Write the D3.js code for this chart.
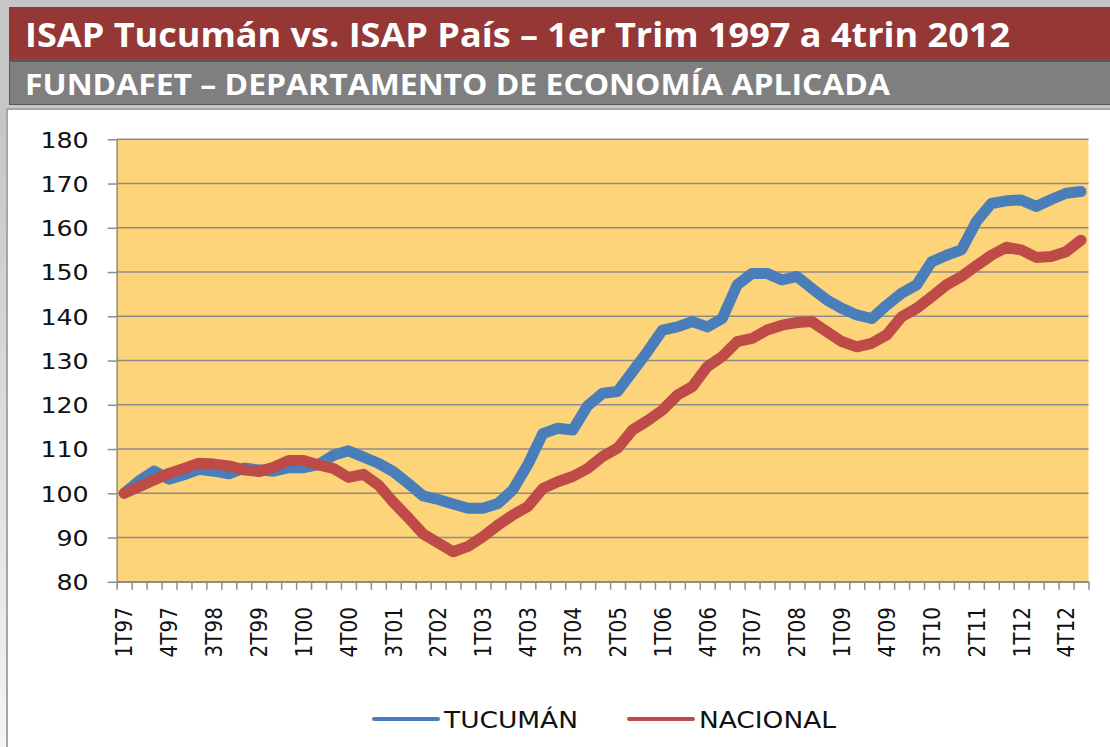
<!DOCTYPE html>
<html>
<head>
<meta charset="utf-8">
<script src="https://cdn.jsdelivr.net/npm/d3@7"></script>
<style>
  body { margin: 0; background: #ffffff; }
</style>
</head>
<body>
<div id="chart"></div>
<script>
// data
var quarters = [
    "1T97", "2T97", "3T97", "4T97", "1T98", "2T98", "3T98", "4T98",
    "1T99", "2T99", "3T99", "4T99", "1T00", "2T00", "3T00", "4T00",
    "1T01", "2T01", "3T01", "4T01", "1T02", "2T02", "3T02", "4T02",
    "1T03", "2T03", "3T03", "4T03", "1T04", "2T04", "3T04", "4T04",
    "1T05", "2T05", "3T05", "4T05", "1T06", "2T06", "3T06", "4T06",
    "1T07", "2T07", "3T07", "4T07", "1T08", "2T08", "3T08", "4T08",
    "1T09", "2T09", "3T09", "4T09", "1T10", "2T10", "3T10", "4T10",
    "1T11", "2T11", "3T11", "4T11", "1T12", "2T12", "3T12", "4T12",
    "1T13"
];

var tucuman = [
    100, 102.8, 105, 103.2, 104.2, 105.4, 105, 104.4,
    105.7, 105.3, 105, 105.8, 105.8, 106.5, 108.6, 109.6,
    108.2, 106.8, 104.9, 102.2, 99.4, 98.6, 97.6, 96.6,
    96.6, 97.7, 100.8, 106.5, 113.5, 114.7, 114.3, 119.8,
    122.6, 123, 127.5, 132, 136.9, 137.6, 138.8, 137.6,
    139.5, 147.1, 149.7, 149.7, 148.2, 149, 146.3, 143.7,
    141.8, 140.3, 139.5, 142.5, 145.2, 147.1, 152.3, 153.8,
    155, 161.4, 165.5, 166.1, 166.3, 164.8, 166.4, 167.8,
    168.2
];

var nacional = [
    100, 101.5, 103, 104.5, 105.6, 106.8, 106.6, 106.2,
    105.3, 104.9, 105.9, 107.4, 107.4, 106.4, 105.6, 103.6,
    104.3, 101.9, 98, 94.5, 90.8, 88.8, 86.8, 88,
    90.2, 92.8, 95.1, 97, 101.1, 102.6, 103.8, 105.6,
    108.3, 110.2, 114.3, 116.4, 118.8, 122.2, 124.1, 128.6,
    130.9, 134.3, 135, 136.9, 138, 138.6, 138.8, 136.5,
    134.3, 133.1, 133.9, 135.8, 139.9, 141.8, 144.4, 147.1,
    149, 151.4, 153.8, 155.6, 155, 153.3, 153.5, 154.6,
    157.2
];

var yTicks = [80, 90, 100, 110, 120, 130, 140, 150, 160, 170, 180];
var labelEvery = 3;

var seriesNames = ["TUCUMÁN", "NACIONAL"];
var seriesColors = ["#4a7ebb", "#be4b48"];

var titleText = "ISAP Tucumán vs. ISAP País – 1er Trim 1997 a 4trin 2012";
var subtitleText = "FUNDAFET – DEPARTAMENTO DE ECONOMÍA APLICADA";

// layout
var width = 1110, height = 747;
var plot = { left: 116.7, right: 1088.5, top: 139.3, bottom: 581.8 };
var stretch = 1.15;

var svg = d3.select("#chart")
    .append("svg")
    .attr("width", width)
    .attr("height", height);

var defs = svg.append("defs");
var grad = defs.append("linearGradient")
    .attr("id", "sideGrad")
    .attr("x1", 0).attr("y1", 0).attr("x2", 0).attr("y2", 1);
grad.append("stop").attr("offset", "0%").attr("stop-color", "#bdbdbd");
grad.append("stop").attr("offset", "100%").attr("stop-color", "#f4f4f4");

// page frame
svg.append("rect").attr("width", width).attr("height", height).attr("fill", "#ffffff");
svg.append("rect").attr("x", 0).attr("y", 0).attr("width", 8).attr("height", height)
    .attr("fill", "url(#sideGrad)");
svg.append("rect").attr("x", 0).attr("y", 0).attr("width", width).attr("height", 108)
    .attr("fill", "#c6c6c6");

// header bands
svg.append("rect").attr("x", 9).attr("y", 7).attr("width", width - 9).attr("height", 52)
    .attr("fill", "#953735");
svg.append("rect").attr("x", 9).attr("y", 59).attr("width", width - 9).attr("height", 2)
    .attr("fill", "#5a5a5a");
svg.append("rect").attr("x", 9.5).attr("y", 61.5).attr("width", width - 9).attr("height", 43)
    .attr("fill", "#7f7f7f")
    .attr("stroke", "#595959")
    .attr("stroke-width", 1);

svg.append("text")
    .attr("x", 25)
    .attr("y", 47)
    .attr("fill", "#ffffff")
    .attr("font-family", "Open Sans, sans-serif")
    .attr("font-weight", 700)
    .style("font-size", "34px")
    .attr("textLength", 985)
    .attr("lengthAdjust", "spacingAndGlyphs")
    .text(titleText);

svg.append("text")
    .attr("x", 25)
    .attr("y", 95)
    .attr("fill", "#ffffff")
    .attr("font-family", "Open Sans, sans-serif")
    .attr("font-weight", 700)
    .style("font-size", "29px")
    .attr("textLength", 865)
    .attr("lengthAdjust", "spacingAndGlyphs")
    .text(subtitleText);

// chart area
svg.append("rect").attr("x", 7).attr("y", 109).attr("width", width).attr("height", height)
    .attr("fill", "#ffffff")
    .attr("stroke", "#a6a6a6")
    .attr("stroke-width", 2);

// scales
var x = d3.scaleBand()
    .domain(quarters)
    .range([plot.left, plot.right])
    .padding(0);

var xEdge = d3.scaleLinear()
    .domain([0, quarters.length])
    .range([plot.left, plot.right]);

var y = d3.scaleLinear()
    .domain([80, 180])
    .range([plot.bottom, plot.top]);

// plot background
svg.append("rect")
    .attr("x", plot.left)
    .attr("y", plot.top)
    .attr("width", plot.right - plot.left)
    .attr("height", plot.bottom - plot.top)
    .attr("fill", "#fdd47a");

// grid
svg.append("g")
    .selectAll("line")
    .data(yTicks)
    .join("line")
    .attr("x1", plot.left)
    .attr("x2", plot.right)
    .attr("y1", function (d) { return y(d); })
    .attr("y2", function (d) { return y(d); })
    .attr("stroke", "#8c8c8c")
    .attr("stroke-width", 1.5);

// y axis
var yAxis = svg.append("g")
    .attr("transform", "translate(" + plot.left + ",0)")
    .call(d3.axisLeft(y).tickValues(yTicks).tickSize(9).tickPadding(19).tickSizeOuter(0));
yAxis.select(".domain").attr("stroke", "#8c8c8c").attr("stroke-width", 1.5);
yAxis.selectAll(".tick line").attr("stroke", "#8c8c8c").attr("stroke-width", 1.5);
yAxis.selectAll(".tick text")
    .attr("font-family", "DejaVu Sans, sans-serif")
    .style("font-size", "22px")
    .attr("fill", "#111111")
    .attr("dy", "0.36em")
    .attr("transform", "translate(" + (28 * (stretch - 1)) + ",0) scale(" + stretch + ",1)");

// x axis ticks between categories
var xTicks = svg.append("g")
    .attr("transform", "translate(0," + plot.bottom + ")")
    .call(d3.axisBottom(xEdge)
        .tickValues(d3.range(quarters.length + 1))
        .tickFormat("")
        .tickSize(8)
        .tickSizeOuter(0));
xTicks.select(".domain").attr("stroke", "#8c8c8c").attr("stroke-width", 1.5);
xTicks.selectAll(".tick line").attr("stroke", "#8c8c8c").attr("stroke-width", 1.5);

// x labels, rotated
svg.append("g")
    .selectAll("text")
    .data(quarters.filter(function (d, i) { return i % labelEvery === 0; }))
    .join("text")
    .attr("transform", function (d) {
        return "translate(" + (x(d) + x.bandwidth() / 2) + ",607) scale(" + stretch + ",1) rotate(-90)";
    })
    .attr("text-anchor", "end")
    .attr("dy", "0.36em")
    .attr("font-family", "DejaVu Sans, sans-serif")
    .style("font-size", "20px")
    .attr("fill", "#111111")
    .text(function (d) { return d; });

// lines
var line = d3.line()
    .x(function (d, i) { return x(quarters[i]) + x.bandwidth() / 2; })
    .y(function (d) { return y(d); });

svg.append("g")
    .selectAll("path")
    .data([tucuman, nacional])
    .join("path")
    .attr("d", function (d) { return line(d); })
    .attr("fill", "none")
    .attr("stroke", function (d, i) { return seriesColors[i]; })
    .attr("stroke-width", 11)
    .attr("stroke-linejoin", "round")
    .attr("stroke-linecap", "round");

// legend
var legendX = [374, 629];
var legend = svg.append("g")
    .selectAll("g")
    .data(seriesNames)
    .join("g")
    .attr("transform", function (d, i) { return "translate(" + legendX[i] + ",719)"; });

legend.append("line")
    .attr("x1", 0)
    .attr("x2", 64)
    .attr("stroke", function (d, i) { return seriesColors[i]; })
    .attr("stroke-width", 4)
    .attr("stroke-linecap", "round");

legend.append("text")
    .attr("x", 70)
    .attr("y", 9)
    .attr("transform", "scale(" + stretch + ",1) translate(" + (-70 * (1 - 1 / stretch)) + ",0)")
    .attr("font-family", "DejaVu Sans, sans-serif")
    .style("font-size", "23px")
    .attr("fill", "#111111")
    .text(function (d) { return d; });
</script>
</body>
</html>
